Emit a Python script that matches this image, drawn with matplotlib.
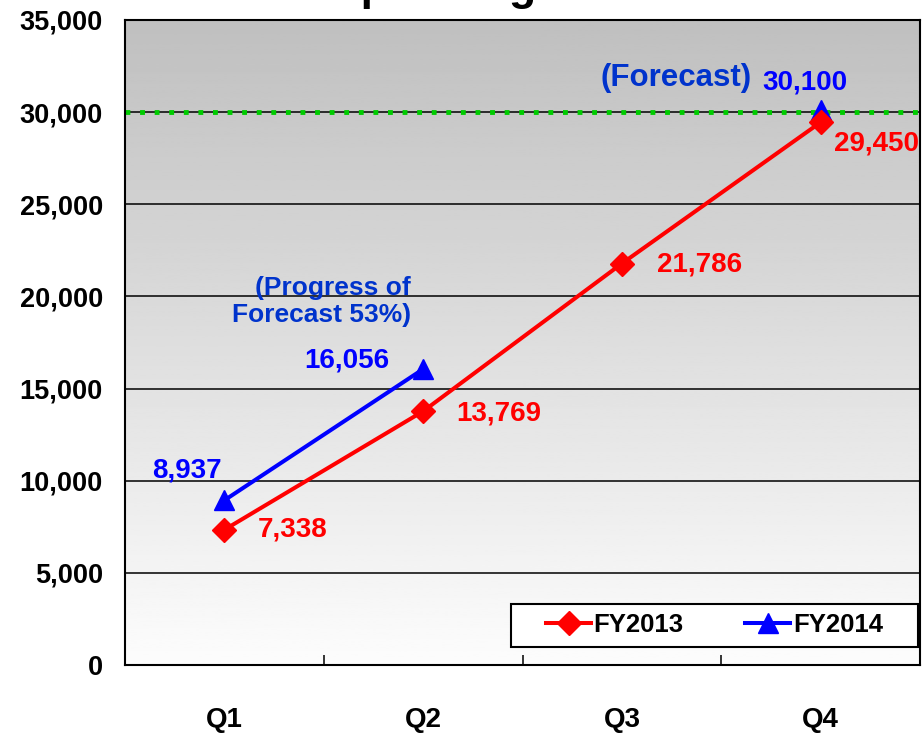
import numpy as np
import matplotlib
matplotlib.use('Agg')
import matplotlib.pyplot as plt
from matplotlib.patches import Rectangle

# chart data
quarters = ['Q1', 'Q2', 'Q3', 'Q4']
fy2013 = [7338, 13769, 21786, 29450]
fy2014 = [8937, 16056, np.nan, 30100]
forecast = 30000
labels_2013 = ['7,338', '13,769', '21,786', '29,450']
labels_2014 = ['8,937', '16,056', None, '30,100']
yticks = [0, 5000, 10000, 15000, 20000, 25000, 30000, 35000]

font = ['Liberation Sans', 'DejaVu Sans']

fig = plt.figure(figsize=(9.22, 7.34), dpi=100)
ax = fig.add_axes([125/922, 69/734, 795/922, 645/734])

x = np.arange(len(quarters))
ax.set_xlim(-0.5, 3.5)
ax.set_ylim(0, 35000)

# gray gradient background, dark at the top
grad = np.linspace(0.75, 0.99, 256).reshape(-1, 1)
ax.imshow(grad, cmap='gray', vmin=0, vmax=1, aspect='auto',
          extent=[-0.5, 3.5, 0, 35000], origin='upper', zorder=0)

for v in yticks:
    ax.axhline(v, color='black', lw=1.1, zorder=1)
ax.axhline(forecast, color='#00cc00', lw=3.5, ls=(0, (1, 2)), zorder=2)

ax.plot(x, fy2013, color='#ff0000', lw=2.9, marker='D', ms=12,
        label='FY2013', zorder=4)
ax.plot(x, fy2014, color='#0000ff', lw=2.9, marker='^', ms=14,
        label='FY2014', zorder=3)

# data labels
off13 = [(33, 0, 'left'), (33, -2, 'left'), (35, -1, 'left'), (13, -21, 'left')]
for i, (v, t) in enumerate(zip(fy2013, labels_2013)):
    dx, dy, ha = off13[i]
    ax.annotate(t, (x[i], v), xytext=(dx, dy), textcoords='offset pixels',
                ha=ha, va='center', color='#ff0000', fontsize=20,
                fontweight='bold', family=font, zorder=5)
off14 = [(-3, 30, 'right'), (-34, 9, 'right'), None, (-16, 28, 'center')]
for i, (v, t) in enumerate(zip(fy2014, labels_2014)):
    if t is None:
        continue
    dx, dy, ha = off14[i]
    ax.annotate(t, (x[i], v), xytext=(dx, dy), textcoords='offset pixels',
                ha=ha, va='center', color='#0000ff', fontsize=20,
                fontweight='bold', family=font, zorder=5)

ax.annotate('(Forecast)', (x[3], fy2014[3]), xytext=(-220, 32),
            textcoords='offset pixels', ha='left', va='center',
            color='#0033cc', fontsize=22.5, fontweight='bold', family=font)
ax.annotate('(Progress of\nForecast 53%)', (x[1], fy2014[1]), xytext=(-12, 68),
            textcoords='offset pixels', ha='right', va='center',
            multialignment='right', linespacing=1.15,
            color='#0033cc', fontsize=19, fontweight='bold', family=font)

# axes styling
ax.set_yticks(yticks)
ax.set_yticklabels([f'{v:,}' for v in yticks], fontsize=19.5,
                   fontweight='bold', family=font)
ax.tick_params(axis='y', length=0, pad=16)
ax.set_xticks(x)
ax.set_xticklabels(quarters, fontsize=20, fontweight='bold', family=font)
ax.tick_params(axis='x', which='major', length=0, pad=30)
ax.set_xticks([0.5, 1.5, 2.5], minor=True)
ax.tick_params(axis='x', which='minor', direction='in', length=7, width=1.1,
               color='black')
for s in ax.spines.values():
    s.set_linewidth(1.5)
    s.set_color('black')
    s.set_zorder(6)

# legend box, entries centred inside it
box = Rectangle((0.4855, 0.028), 0.512, 0.0667, transform=ax.transAxes,
                facecolor='white', edgecolor='black', lw=1.5, zorder=7)
ax.add_patch(box)
leg = ax.legend(loc='center', bbox_to_anchor=(0.7415, 0.0613), ncol=2,
                frameon=False, prop={'family': font, 'weight': 'bold', 'size': 18.5},
                handlelength=1.75, handletextpad=0.1, borderaxespad=0,
                borderpad=0, columnspacing=2.4)
leg.set_zorder(8)

# title, cut off by the top edge of the picture
fig.text(326/922, 1.0, 'Operating Income', ha='left', va='baseline',
         fontsize=32, fontweight='bold', family=font)

fig.savefig('out.png', dpi=100)
